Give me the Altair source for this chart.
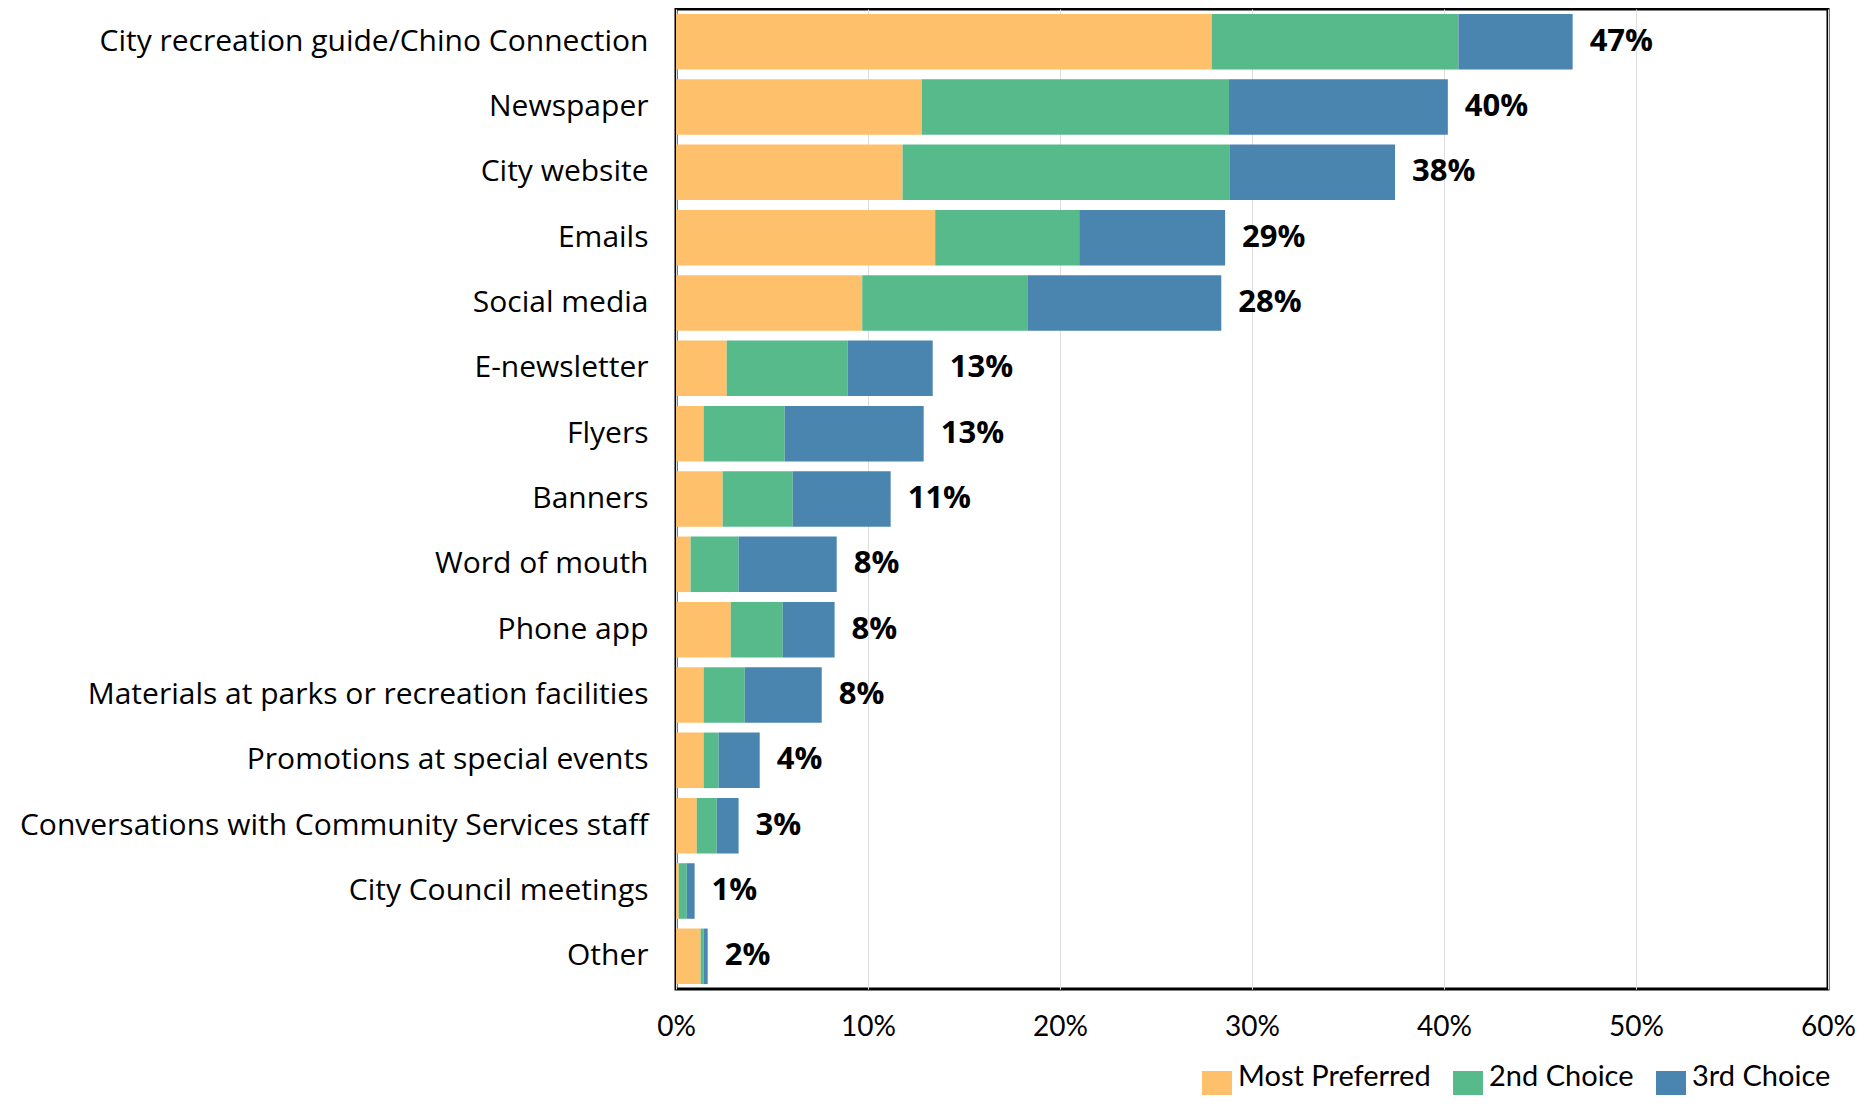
import altair as alt
import pandas as pd

categories = [
    "City recreation guide/Chino Connection",
    "Newspaper",
    "City website",
    "Emails",
    "Social media",
    "E-newsletter",
    "Flyers",
    "Banners",
    "Word of mouth",
    "Phone app",
    "Materials at parks or recreation facilities",
    "Promotions at special events",
    "Conversations with Community Services staff",
    "City Council meetings",
    "Other",
]
series = ["Most Preferred", "2nd Choice", "3rd Choice"]
most_preferred = [27.9, 12.8, 11.8, 13.5, 9.7, 2.64, 1.44, 2.43, 0.76, 2.85, 1.44, 1.44, 1.08, 0.14, 1.28]
second_choice = [12.85, 16.0, 17.05, 7.5, 8.6, 6.3, 4.22, 3.65, 2.5, 2.71, 2.14, 0.78, 1.04, 0.42, 0.16]
third_choice = [5.95, 11.4, 8.6, 7.6, 10.1, 4.43, 7.24, 5.1, 5.11, 2.7, 4.01, 2.14, 1.14, 0.41, 0.21]
total_labels = ["47%", "40%", "38%", "29%", "28%", "13%", "13%", "11%", "8%", "8%", "8%", "4%", "3%", "1%", "2%"]
x_ticks = [0, 10, 20, 30, 40, 50, 60]
colors = ["#FFC06B", "#57BA8B", "#4A85B0"]

rows = []
for i, c in enumerate(categories):
    for j, (s, vals) in enumerate(zip(series, [most_preferred, second_choice, third_choice])):
        rows.append({"category": c, "series": s, "order": j, "value": vals[i]})
df = pd.DataFrame(rows)

tot = pd.DataFrame({
    "category": categories,
    "total": [a + b + c for a, b, c in zip(most_preferred, second_choice, third_choice)],
    "label": total_labels,
})

FONT = "Open Sans"
TICK_FONT = "Lato"

y_enc = alt.Y(
    "category:N",
    sort=categories,
    scale=alt.Scale(paddingInner=0.15, paddingOuter=0.075),
    axis=alt.Axis(
        title=None, ticks=False, domain=False, labelFontSize=30, labelColor="#000000",
        labelPadding=28, labelLimit=800, labelFont=FONT,
    ),
)
x_scale = alt.Scale(domain=[0, 60], nice=False)

bars = alt.Chart(df).mark_bar().encode(
    x=alt.X(
        "value:Q",
        stack="zero",
        scale=x_scale,
        axis=alt.Axis(
            title=None, values=x_ticks, labelExpr="datum.value + '%'", ticks=False, domain=False,
            labelFontSize=28, labelColor="#000000", labelPadding=24, labelFont=TICK_FONT,
            labelFlush=False, grid=True, gridColor="#dddddd", gridWidth=1,
        ),
    ),
    y=y_enc,
    color=alt.Color(
        "series:N",
        sort=series,
        scale=alt.Scale(domain=series, range=colors),
        legend=alt.Legend(
            title=None, orient="none", legendX=526, legendY=1062, direction="horizontal",
            columns=3, symbolType="square", symbolSize=900, symbolStrokeWidth=0,
            labelFontSize=29, labelFont=TICK_FONT, labelColor="#000000", labelOffset=6,
            labelLimit=500, columnPadding=22, padding=0, labelBaseline="alphabetic",
        ),
    ),
    order=alt.Order("order:Q"),
)

text = alt.Chart(tot).mark_text(
    align="left", baseline="middle", dx=17, fontSize=31, fontWeight="bold", font=FONT, color="#000000"
).encode(
    x=alt.X("total:Q", scale=x_scale),
    y=alt.Y("category:N", sort=categories),
    text="label:N",
)

chart = alt.layer(bars, text).properties(
    width=1152,
    height=980,
    autosize=alt.AutoSizeParams(type="none"),
    padding={"left": 668, "top": 1, "right": 30, "bottom": 106},
).configure(font=FONT).configure_view(stroke="#000000", strokeWidth=3)

chart.save("out.html", embed_options={"renderer": "svg", "actions": False})
